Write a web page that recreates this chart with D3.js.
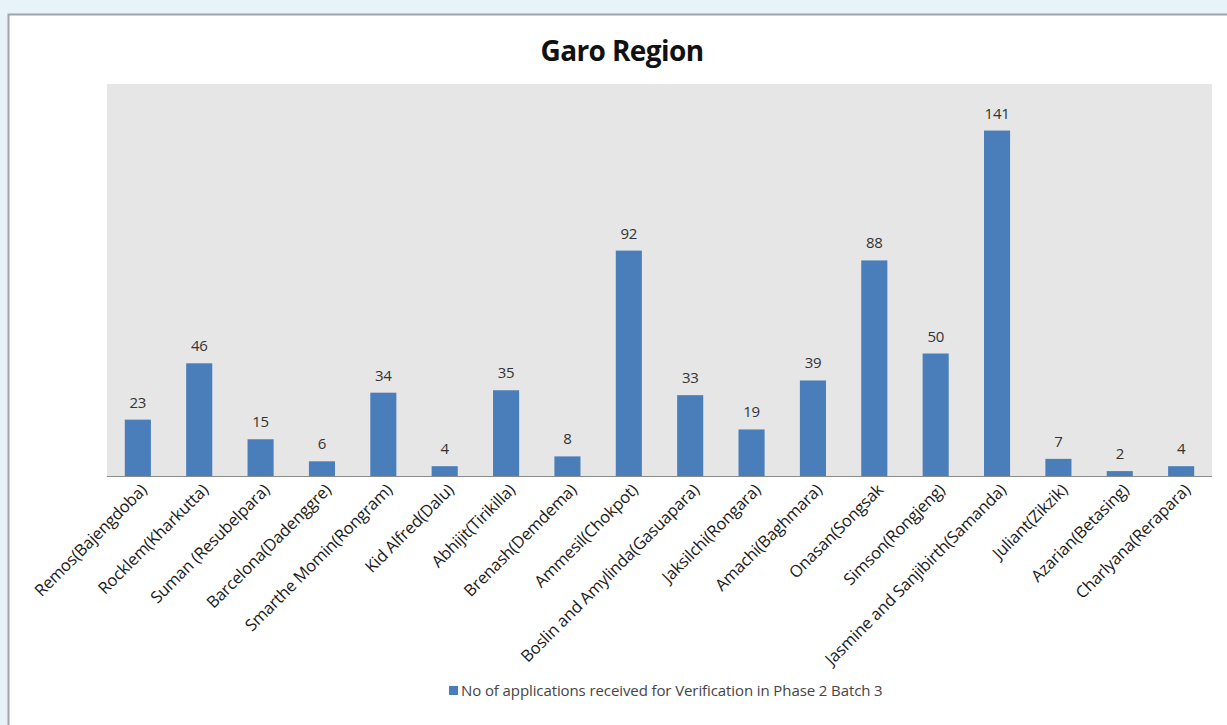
<!DOCTYPE html>
<html>
<head>
<meta charset="utf-8">
<script src="https://cdn.jsdelivr.net/npm/d3@7"></script>
<style>
  body { margin: 0; background: #e8f3f9; }
  svg { display: block; }
</style>
</head>
<body>
<svg></svg>
<script>
var centres = ["Remos(Bajengdoba)", "Rocklem(Kharkutta)", "Suman (Resubelpara)", "Barcelona(Dadenggre)",
    "Smarthe Momin(Rongram)", "Kid Alfred(Dalu)", "Abhijit(Tirikilla)", "Brenash(Demdema)",
    "Ammesil(Chokpot)", "Boslin and Amylinda(Gasuapara)", "Jaksilchi(Rongara)", "Amachi(Baghmara)",
    "Onasan(Songsak", "Simson(Rongjeng)", "Jasmine and Sanjibirth(Samanda)", "Juliant(Zikzik)",
    "Azarian(Betasing)", "Charlyana(Rerapara)"];
var applications = [23, 46, 15, 6, 34, 4, 35, 8, 92, 33, 19, 39, 88, 50, 141, 7, 2, 4];
var seriesName = "No of applications received for Verification in Phase 2 Batch 3";
var yMax = 160;

var W = 1227, H = 725;
var plot = {left: 107, top: 84, right: 1212, bottom: 476};
var font = "'Open Sans', 'Noto Sans', sans-serif";

var svg = d3.select('svg')
    .attr('width', W)
    .attr('height', H);

// white panel with grey frame
svg.append('rect')
    .attr('x', 8.5)
    .attr('y', 14.5)
    .attr('width', W + 20)
    .attr('height', H + 20)
    .attr('fill', 'white')
    .attr('stroke', '#a0a4a8')
    .attr('stroke-width', 2);

svg.append('text')
    .text('Garo Region')
    .attr('x', 622)
    .attr('y', 61)
    .attr('text-anchor', 'middle')
    .attr('font-family', font)
    .attr('font-weight', 'bold')
    .attr('font-size', '28px')
    .attr('letter-spacing', '-0.6px')
    .attr('fill', '#111');

var x = d3.scaleBand()
    .domain(centres)
    .range([plot.left, plot.right])
    .paddingInner(0.575)
    .paddingOuter(0.29);

var y = d3.scaleLinear()
    .domain([0, yMax])
    .range([plot.bottom, plot.top]);

svg.append('rect')
    .attr('x', plot.left)
    .attr('y', plot.top)
    .attr('width', plot.right - plot.left)
    .attr('height', plot.bottom - plot.top)
    .attr('fill', '#e6e6e6');

svg.append('g')
    .selectAll('rect')
    .data(applications)
    .enter().append('rect')
    .attr('x', function(d, i) { return x(centres[i]); })
    .attr('y', function(d) { return y(d); })
    .attr('width', x.bandwidth())
    .attr('height', function(d) { return y(0) - y(d); })
    .attr('fill', '#4a7ebb');

svg.append('g')
    .selectAll('text')
    .data(applications)
    .enter().append('text')
    .attr('x', function(d, i) { return x(centres[i]) + x.bandwidth() / 2; })
    .attr('y', function(d) { return y(d) - 12; })
    .attr('text-anchor', 'middle')
    .attr('font-family', font)
    .attr('font-size', '15px')
    .attr('letter-spacing', '-0.3px')
    .attr('fill', '#333')
    .text(function(d) { return d; });

// category axis
var xAxis = svg.append('g')
    .attr('transform', 'translate(0,' + plot.bottom + ')')
    .call(d3.axisBottom(x).tickSize(0).tickPadding(0));

xAxis.select('.domain')
    .attr('stroke', '#8c8c8c')
    .attr('d', 'M' + plot.left + ',0.5H' + plot.right);

xAxis.selectAll('text')
    .attr('font-family', font)
    .attr('font-size', '16.5px')
    .attr('letter-spacing', '-0.2px')
    .attr('fill', '#1a1a1a')
    .attr('text-anchor', 'end')
    .attr('dy', 0)
    .attr('transform', 'translate(' + (x.bandwidth() / 2 - 3) + ',15) rotate(-45)');

// legend
var legend = svg.append('g')
    .attr('transform', 'translate(449,686)');

legend.append('rect')
    .attr('width', 9)
    .attr('height', 9)
    .attr('fill', '#4a7ebb');

legend.append('text')
    .attr('x', 12)
    .attr('y', 9.5)
    .attr('font-family', font)
    .attr('font-size', '15px')
    .attr('letter-spacing', '-0.1px')
    .attr('fill', '#444')
    .text(seriesName);
</script>
</body>
</html>
